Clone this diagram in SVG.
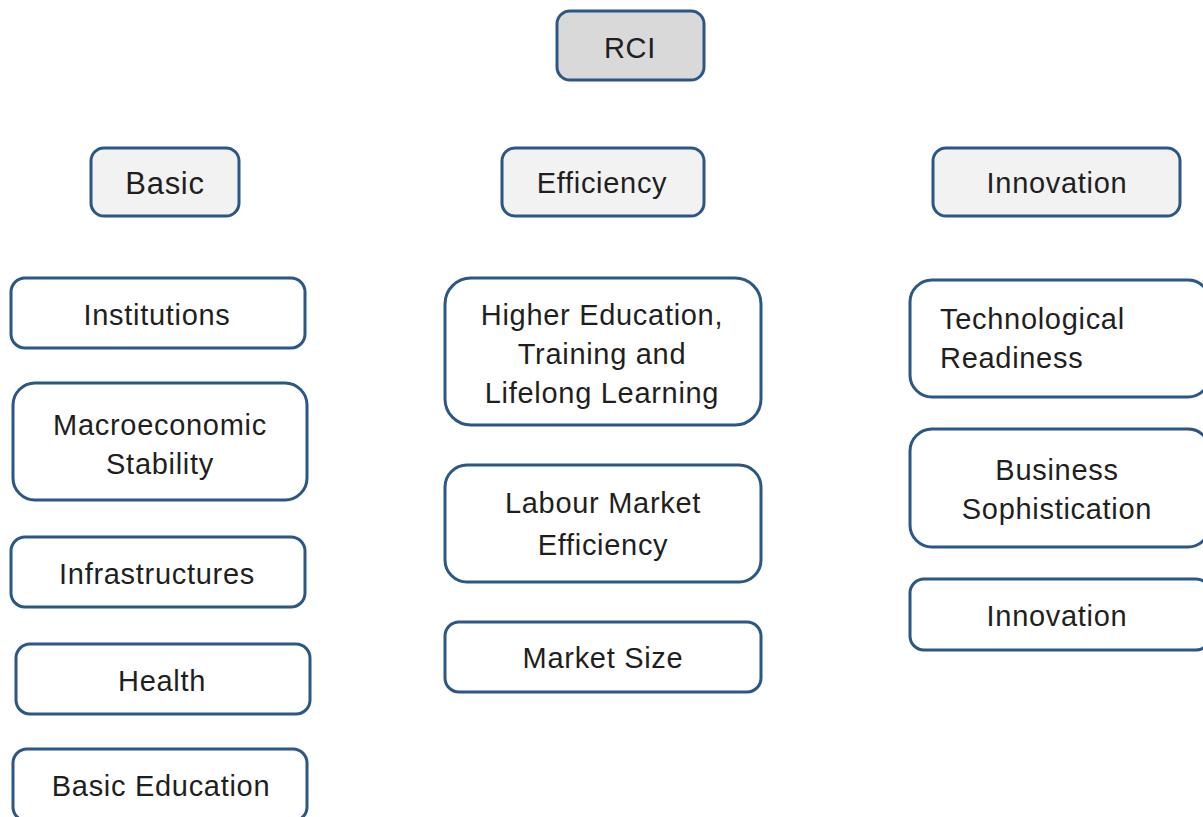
<svg xmlns="http://www.w3.org/2000/svg" width="1203" height="817" viewBox="0 0 1203 817">
<style>
.box{fill:#ffffff;stroke:#2a5785;stroke-width:3}
.top{fill:#d9d9d9}
.hdr{fill:#f2f2f2}
text{font-family:"Liberation Sans","DejaVu Sans",sans-serif;font-size:29px;letter-spacing:0.7px;fill:#1f1f1f;text-anchor:middle}
.l{text-anchor:start}
.big{font-size:31px}
</style>
<rect width="1203" height="817" fill="#ffffff"/>
<g id="connectors"></g>
<g id="rci"><rect class="box top" x="557" y="11" width="147" height="69" rx="13"/><text x="630" y="58">RCI</text></g>
<g id="basic"><rect class="box hdr" x="91" y="148" width="148" height="68" rx="13"/><text class="big" x="165" y="194">Basic</text></g>
<g id="efficiency"><rect class="box hdr" x="502" y="148" width="202" height="68" rx="13"/><text x="602" y="193">Efficiency</text></g>
<g id="innovation-hdr"><rect class="box hdr" x="933" y="148" width="247" height="68" rx="13"/><text x="1057" y="193">Innovation</text></g>
<g id="institutions"><rect class="box" x="11" y="278" width="294" height="70" rx="14"/><text x="157" y="325">Institutions</text></g>
<g id="macro"><rect class="box" x="13" y="383" width="294" height="117" rx="22"/><text x="160" y="435">Macroeconomic</text><text x="160" y="474">Stability</text></g>
<g id="infra"><rect class="box" x="11" y="537" width="294" height="70" rx="14"/><text x="157" y="584">Infrastructures</text></g>
<g id="health"><rect class="box" x="16" y="644" width="294" height="70" rx="14"/><text x="162" y="691">Health</text></g>
<g id="basic-edu"><rect class="box" x="13" y="749" width="294" height="72" rx="14"/><text x="161" y="796">Basic Education</text></g>
<g id="higher-edu"><rect class="box" x="445" y="278" width="316" height="147" rx="26"/><text x="602" y="325">Higher Education,</text><text x="602" y="364">Training and</text><text x="602" y="403">Lifelong Learning</text></g>
<g id="labour"><rect class="box" x="445" y="465" width="316" height="117" rx="22"/><text x="603" y="513">Labour Market</text><text x="603" y="555">Efficiency</text></g>
<g id="market-size"><rect class="box" x="445" y="622" width="316" height="70" rx="14"/><text x="603" y="668">Market Size</text></g>
<g id="tech"><rect class="box" x="910" y="280" width="300" height="117" rx="22"/><text class="l" x="940" y="329">Technological</text><text class="l" x="940" y="368">Readiness</text></g>
<g id="business"><rect class="box" x="910" y="429" width="300" height="118" rx="22"/><text x="1057" y="480">Business</text><text x="1057" y="519">Sophistication</text></g>
<g id="innovation"><rect class="box" x="910" y="579" width="300" height="71" rx="14"/><text x="1057" y="626">Innovation</text></g>
</svg>
